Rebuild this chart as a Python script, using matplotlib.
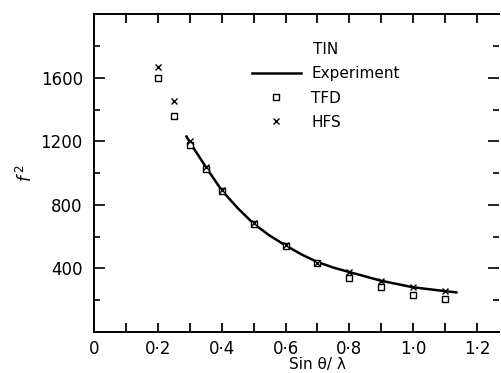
import numpy as np
import matplotlib.pyplot as plt
from matplotlib.lines import Line2D
from matplotlib.ticker import FixedLocator, FuncFormatter

plt.rcParams.update({
    "font.family": "DejaVu Sans",
    "font.size": 11,
    "axes.linewidth": 1.4,
})

# data
x_calc = [0.2, 0.25, 0.3, 0.35, 0.4, 0.5, 0.6, 0.7, 0.8, 0.9, 1.0, 1.1]
f2_tfd = [1600, 1362, 1178, 1027, 888, 680, 542, 435, 340, 283, 233, 208]
f2_hfs = [1670, 1455, 1200, 1040, 895, 683, 545, 437, 378, 318, 283, 258]

x_exp = [0.29, 0.3, 0.35, 0.4, 0.45, 0.5, 0.55, 0.6, 0.65, 0.7, 0.75, 0.8, 0.9, 1.0, 1.1, 1.135]
f2_exp = [1230, 1195, 1040, 892, 780, 682, 607, 545, 488, 440, 405, 377, 322, 281, 257, 249]

fig = plt.figure(figsize=(5.02, 3.73), dpi=100)
ax = fig.add_axes([0.187, 0.110, 0.808, 0.852])

ax.plot(x_exp, f2_exp, color="black", linewidth=1.8, zorder=2)
ax.plot(x_calc, f2_tfd, linestyle="none", marker="s", markersize=5,
        markerfacecolor="white", markeredgecolor="black", markeredgewidth=1.0, zorder=3)
ax.plot(x_calc, f2_hfs, linestyle="none", marker="x", markersize=4.5,
        color="black", markeredgewidth=1.0, zorder=4)

ax.set_xlim(0, 1.27)
ax.set_ylim(0, 2000)

# ticks
ax.xaxis.set_major_locator(FixedLocator(np.arange(0, 1.25, 0.1)))
ax.xaxis.set_major_formatter(FuncFormatter(
    lambda v, p: "" if round(v * 10) % 2 else ("0" if abs(v) < 1e-9 else f"{v:.1f}".replace(".", "\u00b7"))))
ax.yaxis.set_major_locator(FixedLocator([400, 800, 1200, 1600]))
ax.yaxis.set_minor_locator(FixedLocator([200, 600, 1000, 1400, 1800]))

ax.tick_params(axis="x", which="major", direction="in", top=True, bottom=True,
               length=6.5, width=1.3, pad=6, labelsize=12)
ax.tick_params(axis="y", which="major", direction="in", left=True, right=True,
               length=8, width=1.2, pad=8, labelsize=12)
ax.tick_params(axis="y", which="minor", direction="in", left=True, right=True,
               length=4.5, width=1.2)
ax.spines["right"].set_visible(False)

ax.set_xlabel("Sin \u03b8/ \u03bb", fontsize=11)
ax.xaxis.set_label_coords(0.55, -0.08)
ax.xaxis.label.set_va("top")
ax.set_ylabel("$f^{\\,2}$", fontsize=12, labelpad=3)

# legend
handles = [
    Line2D([], [], color="black", linewidth=1.8),
    Line2D([], [], linestyle="none", marker="s", markersize=5,
           markerfacecolor="white", markeredgecolor="black", markeredgewidth=1.0),
    Line2D([], [], linestyle="none", marker="x", markersize=4.5,
           color="black", markeredgewidth=1.0),
]
leg = ax.legend(handles, ["Experiment", "TFD", "HFS"], title="TIN",
                loc="upper left", bbox_to_anchor=(0.355, 0.955), frameon=False,
                fontsize=11, title_fontsize=11, handlelength=3.2,
                handletextpad=0.7, labelspacing=0.6)

fig.savefig("out.png", dpi=100)
